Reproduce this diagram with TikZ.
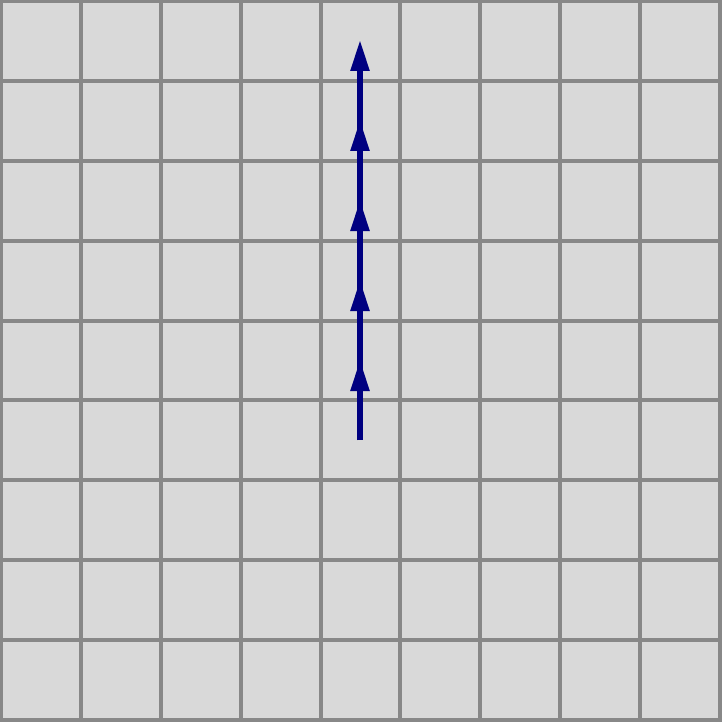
\documentclass[tikz,border=0pt]{standalone}
\usetikzlibrary{arrows.meta}
\definecolor{walk}{RGB}{0,0,128}
\definecolor{cellfill}{RGB}{217,217,217}
\definecolor{cellline}{RGB}{136,136,136}
\tikzset{
  cell/.style={draw=cellline,fill=cellfill,line width=4pt},
  shaft/.style={draw=walk,line width=5.5pt},
  move/.style={shaft,-{Triangle[length=31pt,width=18pt]}},
}
\begin{document}
\begin{tikzpicture}[x=1pt,y=1pt]
  \useasboundingbox (0,0) rectangle (721,-722);

  % ---------------- board
  \foreach \i in {0,...,8}
    \foreach \j in {0,...,8}
      \draw[cell] ({1+79.875*\i},{-1-79.875*\j}) rectangle ++(79.875,-79.875);

  % ---------------- path
  \coordinate (p0) at (360,-440);
  \coordinate (p1) at (360,-360);
  \coordinate (p2) at (360,-280);
  \coordinate (p3) at (360,-200);
  \coordinate (p4) at (360,-120);
  \coordinate (p5) at (360,-40);
  \draw[shaft,shorten >=20pt] (p0) -- (p5);
  \draw[move] (p0) -- (p1);
  \draw[move] (p1) -- (p2);
  \draw[move] (p2) -- (p3);
  \draw[move] (p3) -- (p4);
  \draw[move] (p4) -- (p5);
\end{tikzpicture}
\end{document}
